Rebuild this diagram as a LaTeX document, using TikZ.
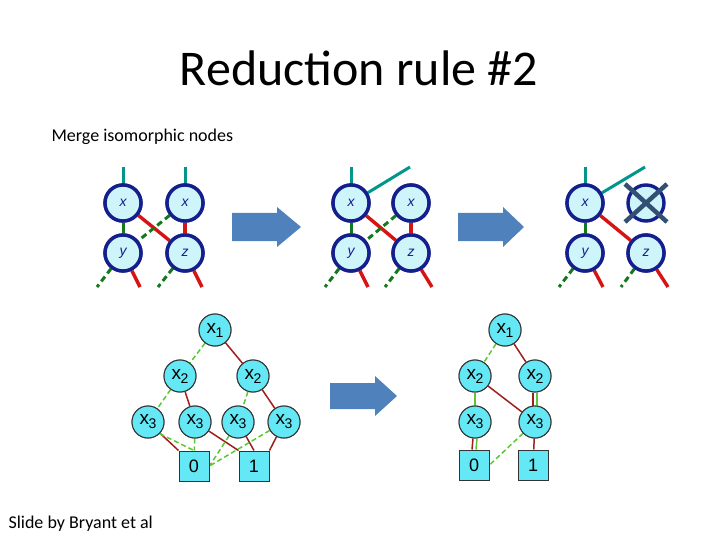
\documentclass[tikz,border=0pt]{standalone}
\usepackage{fontspec}
\setmainfont{Carlito}
\newfontfamily\ttl{Carlito}
\newfontfamily\arialf{Liberation Sans}
\definecolor{tfill}{RGB}{205,245,250}
\definecolor{tdraw}{RGB}{20,30,140}
\definecolor{bfill}{RGB}{100,232,245}
\definecolor{tealc}{RGB}{0,150,140}
\definecolor{arrc}{RGB}{79,129,189}
\definecolor{crossc}{RGB}{50,80,115}
\definecolor{redc}{RGB}{215,20,20}
\definecolor{greenc}{RGB}{20,120,30}
\definecolor{bred}{RGB}{160,30,30}
\definecolor{bgreen}{RGB}{90,200,50}
\newcommand{\xs}[1]{x\kern-0.5pt\raisebox{-0.4ex}{\fontsize{14}{16}\selectfont #1}}
\begin{document}
\begin{tikzpicture}[x=1pt,y=-1pt,
 tn/.style={circle,draw=tdraw,line width=3.4pt,fill=tfill,minimum size=36pt,inner sep=0pt,font=\arialf\itshape\fontsize{14}{16}\selectfont,text=tdraw},
 bn/.style={circle,draw=black!80,line width=1pt,fill=bfill,minimum size=32pt,inner sep=0pt,font=\arialf\fontsize{19}{21}\selectfont},
 bt/.style={rectangle,draw=black!80,line width=1pt,fill=bfill,minimum size=30pt,inner sep=0pt,font=\arialf\fontsize{18}{20}\selectfont},
 teal/.style={draw=tealc,line width=3pt},
 hi/.style={draw=redc,line width=3.4pt},
 lo/.style={draw=greenc,line width=3pt,dash pattern=on 6pt off 4pt},
 los/.style={draw=greenc,line width=3pt},
 bhi/.style={draw=bred,line width=1.5pt},
 blo/.style={draw=bgreen,line width=1.5pt,dash pattern=on 5pt off 3pt},
 blos/.style={draw=bgreen,line width=1.5pt},
 arr/.style={fill=arrc,draw=none}]
\useasboundingbox (0,0) rectangle (720,540);
\node[font=\ttl\fontsize{50}{54}\selectfont] (title) at (359,68) {Reduction rule \#2};
\node[anchor=west,font=\fontsize{18}{21}\selectfont] (sub) at (48,137) {Merge isomorphic nodes};
\node[anchor=west,font=\fontsize{18}{21}\selectfont] (cred) at (5,524) {Slide by Bryant et al};
% stubs
\draw[teal] (123,167) -- (123,190);
\draw[teal] (185,167) -- (185,190);
\draw[teal] (351,167) -- (351,190);
\draw[teal] (585,167) -- (585,190);
\node[tn] (xa1) at (123,203) {x}; \node[tn] (xb1) at (185,203) {x};
\node[tn] (y1) at (123,253) {y}; \node[tn] (z1) at (185,253) {z};
\node[tn] (xa2) at (351,203) {x}; \node[tn] (xb2) at (411,203) {x};
\node[tn] (y2) at (351,253) {y}; \node[tn] (z2) at (411,253) {z};
\node[tn] (xa3) at (585,203) {x}; \node[tn] (xb3) at (646,203) {};
\node[tn] (y3) at (585,253) {y}; \node[tn] (z3) at (646,253) {z};
\coordinate (t2) at (410,167);
\coordinate (t3) at (645,167);
\draw[teal] (xa2) -- (t2);
\draw[teal] (xa3) -- (t3);
\draw[draw=crossc,line width=4.5pt] (xb3.center)++(-21,-19) -- ++(42,38);
\draw[draw=crossc,line width=4.5pt] (xb3.center)++(21,-19) -- ++(-42,38);
\draw[los] (xa1) -- (y1); \draw[hi] (xa1) -- (z1);
\draw[lo] (xb1) -- (y1); \draw[hi] (xb1) -- (z1);
\draw[los] (xa2) -- (y2); \draw[hi] (xa2) -- (z2);
\draw[lo] (xb2) -- (y2); \draw[hi] (xb2) -- (z2);
\draw[los] (xa3) -- (y3); \draw[hi] (xa3) -- (z3);
\coordinate (ya1) at (97,287); \coordinate (yb1) at (140,287);
\coordinate (za1) at (158,287); \coordinate (zb1) at (202,287);
\coordinate (ya2) at (325,287); \coordinate (yb2) at (368,287);
\coordinate (za2) at (385,287); \coordinate (zb2) at (432,287);
\coordinate (ya3) at (559,287); \coordinate (yb3) at (603,287);
\coordinate (za3) at (621,287); \coordinate (zb3) at (668,287);
\foreach \p in {1,2,3}{
 \draw[lo] (y\p) -- (ya\p); \draw[hi] (y\p) -- (yb\p);
 \draw[lo] (z\p) -- (za\p); \draw[hi] (z\p) -- (zb\p);
}
% redraw nodes on top
\node[tn] at (123,203) {x}; \node[tn] at (185,203) {x};
\node[tn] at (123,253) {y}; \node[tn] at (185,253) {z};
\node[tn] at (351,203) {x}; \node[tn] at (411,203) {x};
\node[tn] at (351,253) {y}; \node[tn] at (411,253) {z};
\node[tn] at (585,203) {x};
\node[tn] at (585,253) {y}; \node[tn] at (646,253) {z};
% arrows
\fill[arr] (232,213) -- (277,213) -- (277,207) -- (301,227) -- (277,247) -- (277,241) -- (232,241) -- cycle;
\fill[arr] (458,213) -- (503,213) -- (503,207) -- (524,227) -- (503,247) -- (503,241) -- (458,241) -- cycle;
\fill[arr] (330,383) -- (375,383) -- (375,376) -- (397,396) -- (375,416) -- (375,409) -- (330,409) -- cycle;
% bottom-left BDD
\node[bn] (b1) at (215,330) {\xs{1}};
\node[bn] (b2a) at (180,376) {\xs{2}}; \node[bn] (b2b) at (253,376) {\xs{2}};
\node[bn] (b3a) at (148,422) {\xs{3}}; \node[bn] (b3b) at (195,422) {\xs{3}};
\node[bn] (b3c) at (238,422) {\xs{3}}; \node[bn] (b3d) at (284,422) {\xs{3}};
\node[bt] (b0) at (194,466) {0}; \node[bt] (bI) at (254,466) {1};
\draw[blo] (b1) -- (b2a); \draw[bhi] (b1) -- (b2b);
\draw[blo] (b2a) -- (b3a); \draw[bhi] (b2a) -- (b3b);
\draw[blo] (b2b) -- (b3c); \draw[bhi] (b2b) -- (b3d);
\draw[bhi] (b3a) -- (b0.north west); \draw[blo] (b3a.south east) -- (b0.north);
\draw[blo] (b3b) -- (b0); \draw[bhi] (b3b) -- (bI.north west);
\draw[blo] (b3c) -- (b0.east); \draw[bhi] (b3c) -- (bI.north);
\draw[blo] (b3d) -- (b0.east); \draw[bhi] (b3d) -- (bI.north east);
\node[bn] at (215,330) {\xs{1}};
\node[bn] at (180,376) {\xs{2}}; \node[bn] at (253,376) {\xs{2}};
\node[bn] at (148,422) {\xs{3}}; \node[bn] at (195,422) {\xs{3}};
\node[bn] at (238,422) {\xs{3}}; \node[bn] at (284,422) {\xs{3}};
\node[bt] at (194,466) {0}; \node[bt] at (254,466) {1};
% bottom-right BDD
\node[bn] (r1) at (505,330) {\xs{1}};
\node[bn] (r2a) at (475,376) {\xs{2}}; \node[bn] (r2b) at (535,376) {\xs{2}};
\node[bn] (r3a) at (475,422) {\xs{3}}; \node[bn] (r3b) at (535,422) {\xs{3}};
\node[bt] (r0) at (474,465) {0}; \node[bt] (rI) at (533,465) {1};
\draw[blo] (r1) -- (r2a); \draw[bhi] (r1) -- (r2b);
\draw[blos] (r2a) -- (r3a); \draw[bhi] (r2a) -- (r3b);
\draw[bhi] ([xshift=-2pt]r2b.south) -- ([xshift=-2pt]r3b.north);
\draw[blos] ([xshift=2pt]r2b.south) -- ([xshift=2pt]r3b.north);
\draw[bhi] ([xshift=-2pt]r3a.south) -- ([xshift=-2pt]r0.north);
\draw[blos] ([xshift=2pt]r3a.south) -- ([xshift=2pt]r0.north);
\draw[blo] (r3b) -- (r0.east); \draw[bhi] (r3b) -- (rI);
\node[bn] at (505,330) {\xs{1}};
\node[bn] at (475,376) {\xs{2}}; \node[bn] at (535,376) {\xs{2}};
\node[bn] at (475,422) {\xs{3}}; \node[bn] at (535,422) {\xs{3}};
\node[bt] at (474,465) {0}; \node[bt] at (533,465) {1};
\end{tikzpicture}
\end{document}
